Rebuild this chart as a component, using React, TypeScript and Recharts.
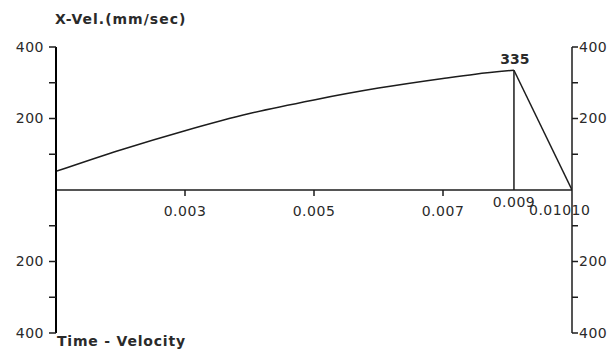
import { LineChart, Line, XAxis, YAxis, ReferenceLine, ReferenceDot } from 'recharts';

// time (s) and x-velocity (mm/sec)
const riseTimes = [0.001, 0.002, 0.003, 0.004, 0.005, 0.006, 0.007, 0.0075, 0.0081];
const riseVelocity = [52, 112, 166, 214, 252, 285, 312, 324, 335];
const dropTimes = [0.0081, 0.009];
const dropVelocity = [335, 0];

const xDomain = [0.001, 0.009];
const yDomain = [-400, 400];
const xTicks = [0.003, 0.005, 0.007];
const xTickLabels = ['0.003', '0.005', '0.007'];
const yTicks = [-400, -300, -200, -100, 100, 200, 300, 400];
const labelledY = [-400, -200, 200, 400];

const peakTime = 0.0081;
const peakValue = 335;
const peakTimeLabel = '0.009';
const endTime = 0.009;
const endLabel = '0.01010';

const chartTitle = 'X-Vel.(mm/sec)';
const chartFooter = 'Time - Velocity';

const data = riseTimes.map((t, i) => ({ t, rise: riseVelocity[i] as number | null, drop: null as number | null }));
// the peak point carries both series, the end point only the drop
data[data.length - 1].drop = dropVelocity[0];
data.push({ t: dropTimes[1], rise: null, drop: dropVelocity[1] });

const ink = '#1c1c1c';
const textColor = '#2a2a2a';

const fmtY = (v: number) => (labelledY.includes(v) ? String(Math.abs(v)) : '');

export default function App() {
  return (
    <div style={{ position: 'absolute', left: 0, top: 0, width: 611, height: 358, background: '#fff', fontFamily: '"DejaVu Sans", sans-serif' }}>
      <div style={{ position: 'absolute', left: 55, top: 10, fontSize: 14, fontWeight: 'bold', letterSpacing: 1, color: textColor, lineHeight: '18px' }}>
        {chartTitle}
      </div>
      <div style={{ position: 'absolute', left: 57, top: 332, fontSize: 14, fontWeight: 'bold', letterSpacing: 0.8, color: textColor, lineHeight: '18px' }}>
        {chartFooter}
      </div>
      <LineChart width={611} height={358} data={data} margin={{ top: 47, right: 0, bottom: 25, left: 0 }}>
        <XAxis dataKey="t" type="number" domain={xDomain} hide allowDataOverflow />
        <YAxis
          yAxisId="left"
          width={56}
          type="number"
          domain={yDomain}
          ticks={yTicks}
          tickFormatter={fmtY}
          interval={0}
          tickSize={7}
          tickMargin={5}
          axisLine={{ stroke: '#000000', strokeWidth: 2 }}
          tickLine={{ stroke: ink, strokeWidth: 1.5 }}
          tick={{ fill: textColor, fontSize: 14, letterSpacing: 0.5 }}
        />
        <YAxis
          yAxisId="right"
          orientation="right"
          width={39}
          type="number"
          domain={yDomain}
          ticks={yTicks}
          tickFormatter={fmtY}
          interval={0}
          tickSize={6}
          tickMargin={1}
          axisLine={{ stroke: ink, strokeWidth: 1.5 }}
          tickLine={{ stroke: ink, strokeWidth: 1.5 }}
          tick={{ fill: textColor, fontSize: 14, letterSpacing: 0.5 }}
        />
        <ReferenceLine yAxisId="left" y={0} stroke={ink} strokeWidth={1.5} />
        <ReferenceLine
          yAxisId="left"
          segment={[{ x: peakTime, y: 0 }, { x: peakTime, y: peakValue }]}
          stroke={ink}
          strokeWidth={1.5}
        />
        {xTicks.map((t, i) => (
          <ReferenceDot
            key={t}
            yAxisId="left"
            x={t}
            y={0}
            r={0}
            shape={(p: any) => (
              <g>
                <line x1={p.cx} y1={p.cy} x2={p.cx} y2={p.cy + 6} stroke={ink} strokeWidth={1.5} />
                <text x={p.cx} y={p.cy + 26} textAnchor="middle" fontSize={14} letterSpacing={0.5} fill={textColor}>
                  {xTickLabels[i]}
                </text>
              </g>
            )}
          />
        ))}
        <ReferenceDot
          yAxisId="left"
          x={peakTime}
          y={0}
          r={0}
          shape={(p: any) => (
            <text x={p.cx} y={p.cy + 17} textAnchor="middle" fontSize={14} letterSpacing={0.5} fill={textColor}>
              {peakTimeLabel}
            </text>
          )}
        />
        <ReferenceDot
          yAxisId="left"
          x={endTime}
          y={0}
          r={0}
          shape={(p: any) => (
            <text x={p.cx - 43} y={p.cy + 25} textAnchor="start" fontSize={14} letterSpacing={0.5} fill={textColor}>
              {endLabel}
            </text>
          )}
        />
        <ReferenceDot
          yAxisId="left"
          x={peakTime}
          y={peakValue}
          r={0}
          shape={(p: any) => (
            <text x={p.cx + 1} y={p.cy - 6} textAnchor="middle" fontSize={14} fontWeight="bold" fill={textColor}>
              {peakValue}
            </text>
          )}
        />
        <Line
          yAxisId="left"
          type="monotone"
          dataKey="rise"
          stroke={ink}
          strokeWidth={1.5}
          dot={false}
          connectNulls={false}
          isAnimationActive={false}
        />
        <Line
          yAxisId="right"
          type="linear"
          dataKey="drop"
          stroke={ink}
          strokeWidth={1.5}
          dot={false}
          connectNulls
          isAnimationActive={false}
        />
      </LineChart>
    </div>
  );
}
